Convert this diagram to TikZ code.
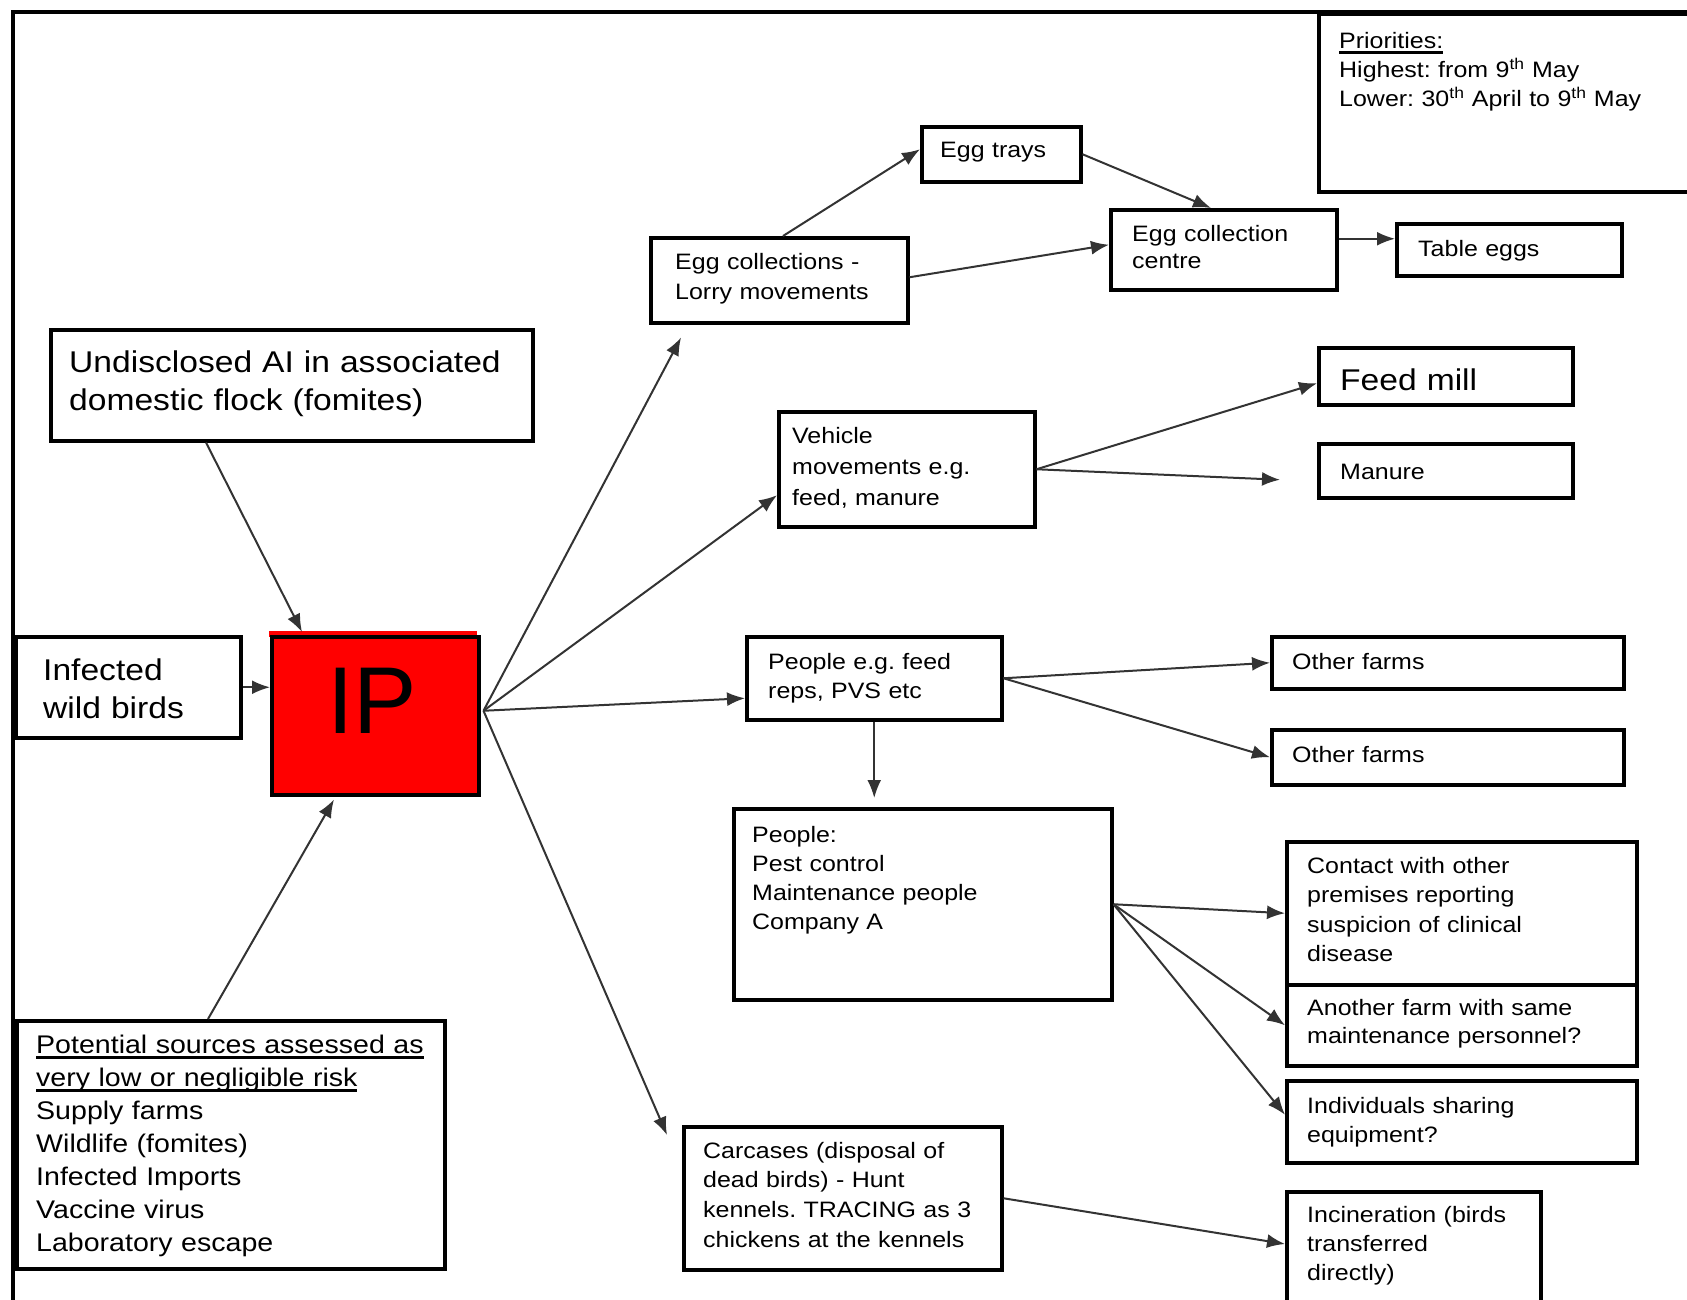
\documentclass[tikz,border=0pt]{standalone}
\usepackage{fontspec}
\setmainfont{Liberation Sans}[FakeStretch=1.12]
\newfontfamily\ipfont{Liberation Sans}
\usetikzlibrary{arrows.meta,calc}
\newsavebox\ulbx
\newcommand\myul[1]{\leavevmode\sbox\ulbx{#1}\rlap{\usebox\ulbx}\rule[-6pt]{\wd\ulbx}{3.2pt}}
\tikzset{
  box/.style={draw=black, line width=3.5pt, rectangle, inner sep=0pt, anchor=north west},
  txt/.style={anchor=base west, inner sep=0pt, align=left, text=black},
  arr/.style={draw=black!80, line width=2pt, -{Latex[length=18pt,width=14pt]}},
  framepath/.style={line width=4pt, draw=black},
  fsS/.style={font=\frenchspacing\fontsize{22.3pt}{#1}\selectfont}, fsS/.default={29.5pt},
  fsM/.style={font=\frenchspacing\fontsize{25.5pt}{#1}\selectfont}, fsM/.default={33pt},
  fsL/.style={font=\frenchspacing\fontsize{30pt}{#1}\selectfont}, fsL/.default={38pt},
}
\begin{document}
\frenchspacing
\begin{tikzpicture}[x=1pt,y=-1pt]
\useasboundingbox (0,0) rectangle (1687,1299);
\fill[white] (0,0) rectangle (1687,1299);
\clip (0,0) rectangle (1687,1299);

% frame
\draw[framepath] (13,1320) -- (13,12) -- (1710,12);

% boxes
\node[box, minimum width=400pt, minimum height=178pt] (prio) at (1317,12) {};
\node[box, minimum width=159pt, minimum height=55pt] (eggtrays) at (920,125) {};
\node[box, minimum width=257pt, minimum height=85pt] (eggcoll) at (649,236) {};
\node[box, minimum width=226pt, minimum height=80pt] (ecc) at (1109,208) {};
\node[box, minimum width=225pt, minimum height=52pt] (table) at (1395,222) {};
\node[box, minimum width=482pt, minimum height=111pt] (undis) at (49,328) {};
\node[box, minimum width=254pt, minimum height=57pt] (feed) at (1317,346) {};
\node[box, minimum width=256pt, minimum height=115pt] (veh) at (777,410) {};
\node[box, minimum width=254pt, minimum height=54pt] (manure) at (1317,442) {};
\node[box, minimum width=225pt, minimum height=101pt] (infected) at (14,635) {};
\fill[red] (269,631) rectangle (477,637);
\node[box, fill=red, minimum width=207pt, minimum height=158pt] (ip) at (270,635) {};
\node[box, minimum width=255pt, minimum height=83pt] (pe) at (745,635) {};
\node[box, minimum width=352pt, minimum height=52pt] (of1) at (1270,635) {};
\node[box, minimum width=352pt, minimum height=55pt] (of2) at (1270,728) {};
\node[box, minimum width=378pt, minimum height=191pt] (people) at (732,807) {};
\node[box, minimum width=350pt, minimum height=143pt] (contact) at (1285,840) {};
\node[box, minimum width=350pt, minimum height=81pt] (another) at (1285,983) {};
\node[box, minimum width=350pt, minimum height=82pt] (indiv) at (1285,1079) {};
\node[box, minimum width=428pt, minimum height=248pt] (pot) at (15,1019) {};
\node[box, minimum width=318pt, minimum height=143pt] (carc) at (682,1125) {};
\node[box, minimum width=254pt, minimum height=150pt] (incin) at (1285,1190) {};

% texts
\node[txt, fsS=29pt, text width=340pt] (t-prio) at (1339,48)
  {\myul{Priorities:}\\Highest: from 9\textsuperscript{th} May\\Lower: 30\textsuperscript{th} April to 9\textsuperscript{th} May};
\node[txt, fsS, text width=135pt] (t-eggtrays) at (940,157) {Egg trays};
\node[txt, fsS=30pt, text width=225pt] (t-eggcoll) at (675,269) {Egg collections -\\Lorry movements};
\node[txt, fsS=27pt, text width=200pt] (t-ecc) at (1132,241) {Egg collection\\centre};
\node[txt, fsS, text width=195pt] (t-table) at (1418,256) {Table eggs};
\node[txt, fsL, text width=460pt] (t-undis) at (69,372) {Undisclosed AI in associated\\domestic flock (fomites)};
\node[txt, fsL, text width=225pt] (t-feed) at (1340,390) {Feed mill};
\node[txt, fsS=31pt, text width=235pt] (t-veh) at (792,443) {Vehicle\\movements e.g.\\feed, manure};
\node[txt, fsS, text width=225pt] (t-manure) at (1340,479) {Manure};
\node[txt, fsL, text width=190pt] (t-infected) at (43,680) {Infected\\wild birds};
\node[txt, font=\ipfont\fontsize{95pt}{100pt}\selectfont, text width=150pt] (t-ip) at (327,733) {IP};
\node[txt, fsS=29pt, text width=225pt] (t-pe) at (768,669) {People e.g. feed\\reps, PVS etc};
\node[txt, fsS, text width=320pt] (t-of1) at (1292,669) {Other farms};
\node[txt, fsS, text width=320pt] (t-of2) at (1292,762) {Other farms};
\node[txt, fsS=29.3pt, text width=350pt] (t-people) at (752,842) {People:\\Pest control\\Maintenance people\\Company A};
\node[txt, fsS=29.5pt, text width=320pt] (t-contact) at (1307,873) {Contact with other\\premises reporting\\suspicion of clinical\\disease};
\node[txt, fsS=28pt, text width=320pt] (t-another) at (1307,1015) {Another farm with same\\maintenance personnel?};
\node[txt, fsS=29pt, text width=320pt] (t-indiv) at (1307,1113) {Individuals sharing\\equipment?};
\node[txt, fsS=29pt, text width=225pt] (t-incin) at (1307,1222) {Incineration (birds\\transferred\\directly)};
\node[txt, fsS=29.8pt, text width=290pt] (t-carc) at (703,1158) {Carcases (disposal of\\dead birds) - Hunt\\kennels. TRACING as 3\\chickens at the kennels};
\node[txt, fsM, text width=400pt] (t-pot) at (36,1053)
  {\myul{Potential sources assessed as}\\\myul{very low or negligible risk}\\Supply farms\\Wildlife (fomites)\\Infected Imports\\Vaccine virus\\Laboratory escape};

% connectors
\coordinate (fan) at ($(ip.east)+(3,-5)$);
\draw[arr] ($(undis.south west)+(157,0)$) -- ($(ip.north west)+(32,-3)$);
\draw[arr] (infected.east) -- (infected.east -| ip.west);
\draw[arr] ($(pot.north west)+(193,0)$) -- ($(ip.south west)+(64,3)$);
\draw[arr] (fan) -- ($(eggcoll.south west)+(32,13)$);
\draw[arr] (fan) -- ($(veh.west)+(0,26)$);
\draw[arr] (fan) -- ($(pe.west)+(0,20)$);
\draw[arr] (fan) -- ($(carc.north west)+(-15,10)$);
\draw[arr] ($(eggcoll.north west)+(134,0)$) -- ($(eggtrays.west)+(0,-5)$);
\draw[arr] ($(eggcoll.east)+(0,-3)$) -- ($(ecc.west)+(0,-5)$);
\draw[arr] (eggtrays.east) -- ($(ecc.north west)+(102,0)$);
\draw[arr] ($(ecc.east)+(0,-11)$) -- ($(table.west)+(0,-11)$);
\draw[arr] (veh.east) -- ($(feed.west)+(0,7)$);
\draw[arr] (veh.east) -- ($(manure.west)+(-37,9)$);
\draw[arr] (pe.east) -- (of1.west);
\draw[arr] (pe.east) -- (of2.west);
\draw[arr, shorten >=9pt] (pe.south) -- (pe.south |- people.north);
\draw[arr] (people.east) -- (contact.west);
\draw[arr] (people.east) -- (another.west);
\draw[arr] (people.east) -- ($(indiv.west)+(0,-7)$);
\draw[arr] (carc.east) -- ($(incin.north west)+(0,54)$);
\end{tikzpicture}
\end{document}
